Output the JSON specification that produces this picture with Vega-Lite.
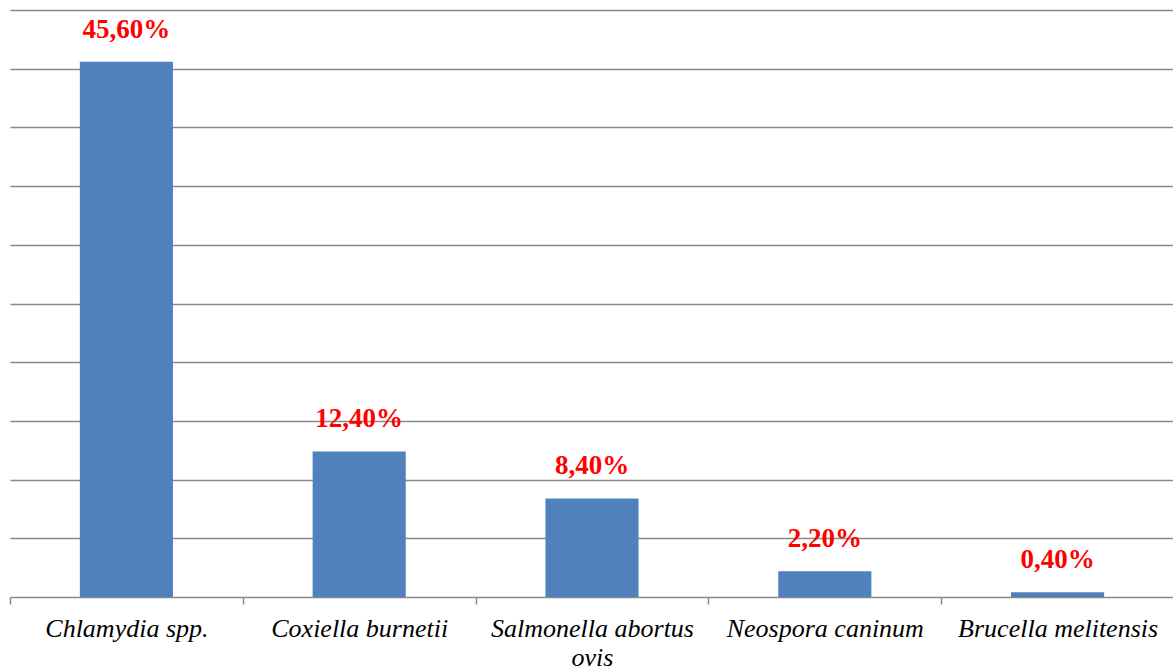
{
  "$schema": "https://vega.github.io/schema/vega-lite/v6.json",
  "width": 1164,
  "height": 587,
  "autosize": {"type": "none"},
  "padding": {"left": 10, "top": 10, "right": 0, "bottom": 74},
  "background": "white",
  "config": {"view": {"stroke": null}},
  "data": {
    "values": [
      {"agent": "Chlamydia spp.", "pct": 45.6, "label": "45,60%"},
      {"agent": "Coxiella burnetii", "pct": 12.4, "label": "12,40%"},
      {"agent": "Salmonella abortus ovis", "pct": 8.4, "label": "8,40%"},
      {"agent": "Neospora caninum", "pct": 2.2, "label": "2,20%"},
      {"agent": "Brucella melitensis", "pct": 0.4, "label": "0,40%"}
    ]
  },
  "encoding": {
    "x": {
      "field": "agent",
      "type": "nominal",
      "sort": null,
      "scale": {"paddingInner": 0, "paddingOuter": 0},
      "axis": {
        "title": null,
        "labelAngle": 0,
        "tickBand": "extent",
        "domainColor": "#898989",
        "domainWidth": 1.5,
        "tickColor": "#898989",
        "tickWidth": 1.5,
        "tickSize": 7,
        "labelFont": "Liberation Serif",
        "labelFontStyle": "italic",
        "labelFontSize": 26,
        "labelColor": "black",
        "labelBaseline": "alphabetic",
        "labelPadding": 32,
        "labelLineHeight": 29,
        "labelLimit": 0,
        "labelExpr": "datum.label == 'Salmonella abortus ovis' ? ['Salmonella abortus', 'ovis'] : datum.label"
      }
    },
    "y": {
      "field": "pct",
      "type": "quantitative",
      "scale": {"domain": [0, 50]},
      "axis": {
        "title": null,
        "labels": false,
        "ticks": false,
        "domain": false,
        "values": [5, 10, 15, 20, 25, 30, 35, 40, 45, 50],
        "gridColor": "#898989",
        "gridWidth": 1.5
      }
    }
  },
  "layer": [
    {
      "mark": {"type": "bar", "color": "#4F81BD", "width": {"band": 0.4}}
    },
    {
      "mark": {
        "type": "text",
        "color": "#FF0000",
        "font": "Liberation Serif",
        "fontWeight": "bold",
        "fontSize": 27,
        "baseline": "alphabetic",
        "dy": -24
      },
      "encoding": {"text": {"field": "label"}}
    }
  ]
}
